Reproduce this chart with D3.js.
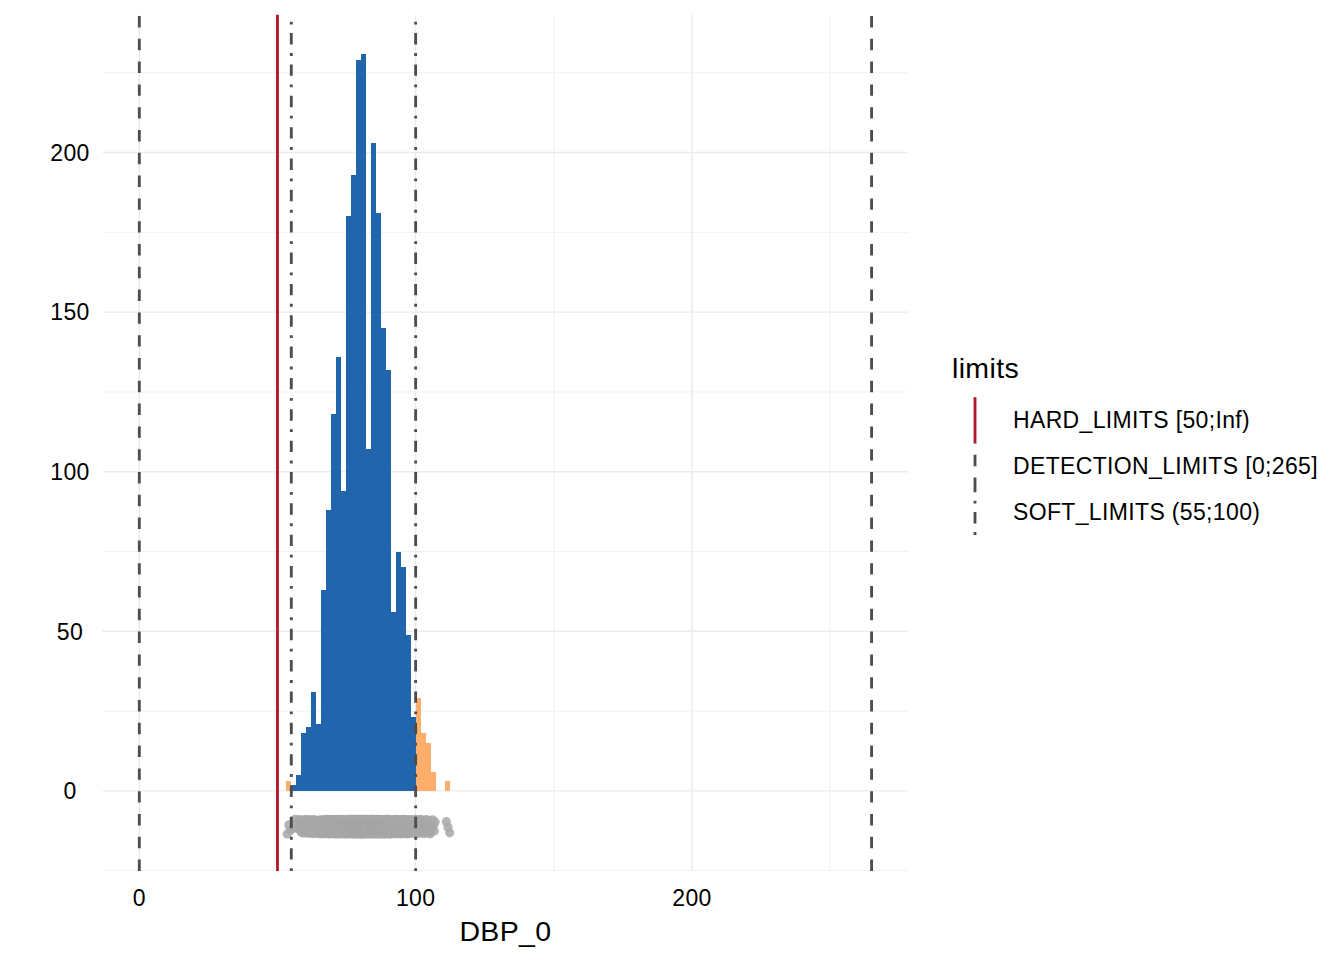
<!DOCTYPE html>
<html>
<head>
<meta charset="utf-8">
<script src="https://cdn.jsdelivr.net/npm/d3@7"></script>
<style>
  html, body { margin: 0; padding: 0; background: #ffffff; }
  svg { display: block; }
  text { font-family: "Liberation Sans", Arial, Helvetica, sans-serif; }
</style>
</head>
<body>
<svg id="chart" width="1344" height="960"></svg>
<script>
// ---------------- data ----------------
const binStart = 53.2;          // lower edge of first histogram bin
const binWidth = 1.8;           // histogram bin width
const binCounts = [3, 2, 5, 18, 20, 31, 21, 63, 88, 118, 136, 94, 180, 193, 229, 231,
                   107, 203, 181, 145, 132, 56, 75, 70, 49, 23, 29, 18, 15, 6, 0, 0, 3];
const softLimits = [55, 100];
const hardLimits = [50];
const detectionLimits = [0, 265];
const xTicks = [0, 100, 200];
const xMinor = [50, 150, 250];
const yTicks = [0, 50, 100, 150, 200];
const yMinor = [-25, 25, 75, 125, 175, 225];
const legendLabels = ["HARD_LIMITS [50;Inf)", "DETECTION_LIMITS [0;265]", "SOFT_LIMITS (55;100)"];
const legendTitle = "limits";
const xTitle = "DBP_0";
const stripCenter = -11.2;      // y level of the raw-value strip

// ---------------- styles ----------------
const colInside = "#2166AC", colOutside = "#FDAE6B", colHard = "#B2182B", colLine = "#4d4d4d";
const lw = 2.85;
const dashed = `${4*lw} ${4*lw}`;
const dotdash = `${1*lw} ${3*lw} ${4*lw} ${3*lw}`;
const smallFont = 23, bigFont = 28.5, ls = 0.35;

const svg = d3.select("#chart");
const panel = {left: 102.7, right: 908.2, top: 14.7, bottom: 871};

const x = d3.scaleLinear().domain([-13.25, 278.25]).range([panel.left, panel.right]);
const y = d3.scaleLinear().domain([-25.1, 243.2]).range([panel.bottom, panel.top]);

const g = svg.append("g");

// grid
g.selectAll(".ymin").data(yMinor).join("line")
  .attr("x1", panel.left).attr("x2", panel.right)
  .attr("y1", d => y(d)).attr("y2", d => y(d))
  .attr("stroke", "#ebebeb").attr("stroke-width", 0.71);
g.selectAll(".xmin").data(xMinor).join("line")
  .attr("y1", panel.top).attr("y2", panel.bottom)
  .attr("x1", d => x(d)).attr("x2", d => x(d))
  .attr("stroke", "#ebebeb").attr("stroke-width", 0.71);
g.selectAll(".ymaj").data(yTicks).join("line")
  .attr("x1", panel.left).attr("x2", panel.right)
  .attr("y1", d => y(d)).attr("y2", d => y(d))
  .attr("stroke", "#ebebeb").attr("stroke-width", 1.42);
g.selectAll(".xmaj").data(xTicks).join("line")
  .attr("y1", panel.top).attr("y2", panel.bottom)
  .attr("x1", d => x(d)).attr("x2", d => x(d))
  .attr("stroke", "#ebebeb").attr("stroke-width", 1.42);

// histogram
const bins = binCounts.map((c, i) => ({x0: binStart + i * binWidth, x1: binStart + (i + 1) * binWidth, count: c}));
g.selectAll(".bar").data(bins.filter(b => b.count > 0)).join("rect")
  .attr("x", d => x(d.x0)).attr("width", d => x(d.x1) - x(d.x0))
  .attr("y", d => y(d.count)).attr("height", d => y(0) - y(d.count))
  .attr("fill", d => (d.x1 <= softLimits[0] + 1e-9 || d.x0 >= softLimits[1] - 1e-9) ? colOutside : colInside)
  .attr("shape-rendering", "crispEdges");

// raw-value strip: one point per observation counted in the bins
const pts = [];
bins.forEach((b, i) => {
  for (let j = 0; j < b.count; j++) {
    const fx = (j + 0.5) / b.count;
    const fy = ((j * 0.6180339887 + i * 0.37) % 1) * 2 - 1;
    pts.push({v: b.x0 + fx * (b.x1 - b.x0), off: fy * 2.3});
  }
});
g.selectAll(".pt").data(pts).join("circle")
  .attr("cx", d => x(d.v)).attr("cy", d => y(stripCenter + d.off))
  .attr("r", 4.6).attr("fill", "#a8a8a8").attr("fill-opacity", 0.85);

// limit lines (drawn bottom -> top)
function vline(v, color, dash) {
  g.append("line")
    .attr("x1", x(v)).attr("x2", x(v))
    .attr("y1", panel.bottom).attr("y2", panel.top)
    .attr("stroke", color).attr("stroke-width", lw)
    .attr("stroke-dasharray", dash || null);
}
hardLimits.forEach(v => vline(v, colHard, null));
detectionLimits.forEach(v => vline(v, colLine, dashed));
softLimits.forEach(v => vline(v, colLine, dotdash));

// axis labels
svg.selectAll(".xt").data(xTicks).join("text")
  .attr("x", d => x(d)).attr("y", 906)
  .attr("text-anchor", "middle").attr("font-size", smallFont).attr("letter-spacing", ls).attr("fill", "#000")
  .text(d => d);
svg.selectAll(".yt").data(yTicks).join("text")
  .attr("x", 70).attr("y", d => y(d) + 8.3)
  .attr("text-anchor", "middle").attr("font-size", smallFont).attr("letter-spacing", ls).attr("fill", "#000")
  .text(d => d);
svg.append("text").attr("x", (panel.left + panel.right) / 2).attr("y", 941)
  .attr("text-anchor", "middle").attr("font-size", bigFont).attr("letter-spacing", ls).attr("fill", "#000")
  .text(xTitle);

// legend
svg.append("text").attr("x", 952).attr("y", 378)
  .attr("font-size", bigFont).attr("letter-spacing", ls).attr("fill", "#000").text(legendTitle);
const keyColors = [colHard, colLine, colLine];
const keyDash = [null, dashed, dotdash];
const keyTop = 397.2, keyH = 45.9;
legendLabels.forEach((lab, i) => {
  const t = keyTop + i * keyH, b = t + keyH;
  svg.append("line").attr("x1", 975).attr("x2", 975)
    .attr("y1", b).attr("y2", t)
    .attr("stroke", keyColors[i]).attr("stroke-width", lw)
    .attr("stroke-dasharray", keyDash[i]);
  svg.append("text").attr("x", 1013).attr("y", t + keyH / 2 + 8.3)
    .attr("font-size", smallFont).attr("letter-spacing", ls).attr("fill", "#000").text(lab);
});
</script>
</body>
</html>
